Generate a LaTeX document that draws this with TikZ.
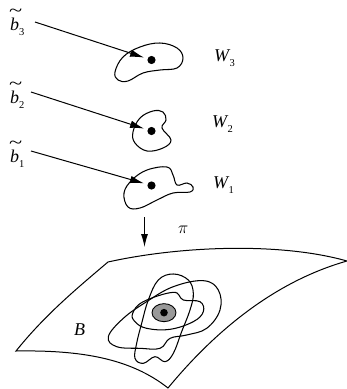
\documentclass[tikz,border=0pt]{standalone}
\usepackage{graphicx}
\usepackage{fontspec}
\setmainfont{Liberation Serif}
\usetikzlibrary{arrows.meta}
\tikzset{
  blob/.style={line width=1.05pt,smooth cycle,tension=0.65},
  lbl/.style={inner sep=0pt,anchor=base west,font=\fontsize{18}{18}\selectfont\itshape},
  pt/.style={circle,fill=black,inner sep=0pt,minimum size=8.2pt},
  lead/.style={line width=1pt,shorten >=3.5pt,-{Latex[length=14pt,width=7.5pt]}},
  drop/.style={line width=1pt,-{Latex[length=13pt,width=7pt]}},
  sheet/.style={line width=1pt}
}
\newcommand{\tb}[1]{\rlap{\raisebox{14pt}{\hspace{-1pt}\upshape\scalebox{1.35}[1]{\textasciitilde}}}b\raisebox{-5pt}{\fontsize{10.5}{10.5}\selectfont\upshape #1}}
\newcommand{\wl}[1]{W\raisebox{-5pt}{\hspace{0.5pt}\fontsize{10.5}{10.5}\selectfont\upshape #1}}
\begin{document}
\begin{tikzpicture}[x=1pt,y=-1pt]
\useasboundingbox (0,0) rectangle (347,389);
% blobs
\draw[blob] plot coordinates {(115,72)(123,57)(140,47)(160,43)(177,48)(183,58)(177,68)(160,70)(143,73)(128,81)(118,80)};
\draw[blob] plot coordinates {(133,132)(140,118)(153,111)(163,112)(166,120)(162,128)(171,140)(163,148)(147,151)(135,143)};
\draw[blob] plot coordinates {(124,193)(132,180)(147,170)(167,167)(173,175)(177,185)(187,183)(193,187)(190,192)(173,193)(157,200)(140,208)(128,207)};
% points
\node[pt] (p3) at (151.5,60) {};
\node[pt] (p2) at (151.5,131) {};
\node[pt] (p1) at (151.5,185.5) {};
% labels
\node[lbl] (b3) at (10,30) {\tb{3}};
\node[lbl] (b2) at (10,103) {\tb{2}};
\node[lbl] (b1) at (10,162) {\tb{1}};
\node[lbl] (w3) at (214,61) {\wl{3}};
\node[lbl] (w2) at (212,127) {\wl{2}};
\node[lbl] (w1) at (213,188) {\wl{1}};
\coordinate (a3) at (35,22);
\coordinate (a2) at (31,92);
\coordinate (a1) at (31,151);
\draw[lead] (a3) -- (p3);
\draw[lead] (a2) -- (p2);
\draw[lead] (a1) -- (p1);
% projection
\coordinate (pa) at (144.5,217);
\coordinate (pb) at (144.5,247);
\draw[drop] (pa) -- (pb);
\node[lbl] (pi) at (178,233) {$\pi$};
% sheet
\draw[sheet,line join=miter] (108,262) .. controls (180,246) and (280,242) .. (347,261)
  .. controls (280,280) and (220,325) .. (168,388)
  .. controls (130,358) and (80,350) .. (16,351)
  .. controls (45,315) and (75,290) .. (108,262) -- cycle;
\node[lbl] (B) at (74,335) {B};
% loops
\begin{scope}[shift={(90,260)},x=0.3333pt,y=-0.3333pt]
\draw[blob] plot coordinates {(175,120)(205,60)(250,42)(295,60)(310,100)(300,150)(275,215)(250,280)(225,305)(195,290)(160,310)(135,295)(140,250)(155,190)};
\draw[blob] plot coordinates {(55,230)(100,175)(170,125)(250,80)(340,62)(385,90)(390,150)(350,205)(290,225)(240,235)(210,265)(150,265)(80,260)};
\draw[blob] plot coordinates {(128,160)(160,125)(250,97)(280,120)(330,125)(340,155)(310,185)(240,208)(170,205)(135,185)};
\draw[line width=0.9pt,fill=black!40] (222,158) ellipse [x radius=36,y radius=27];
\node[pt,minimum size=7.6pt] (pB) at (222,158) {};
\end{scope}
\end{tikzpicture}
\end{document}
